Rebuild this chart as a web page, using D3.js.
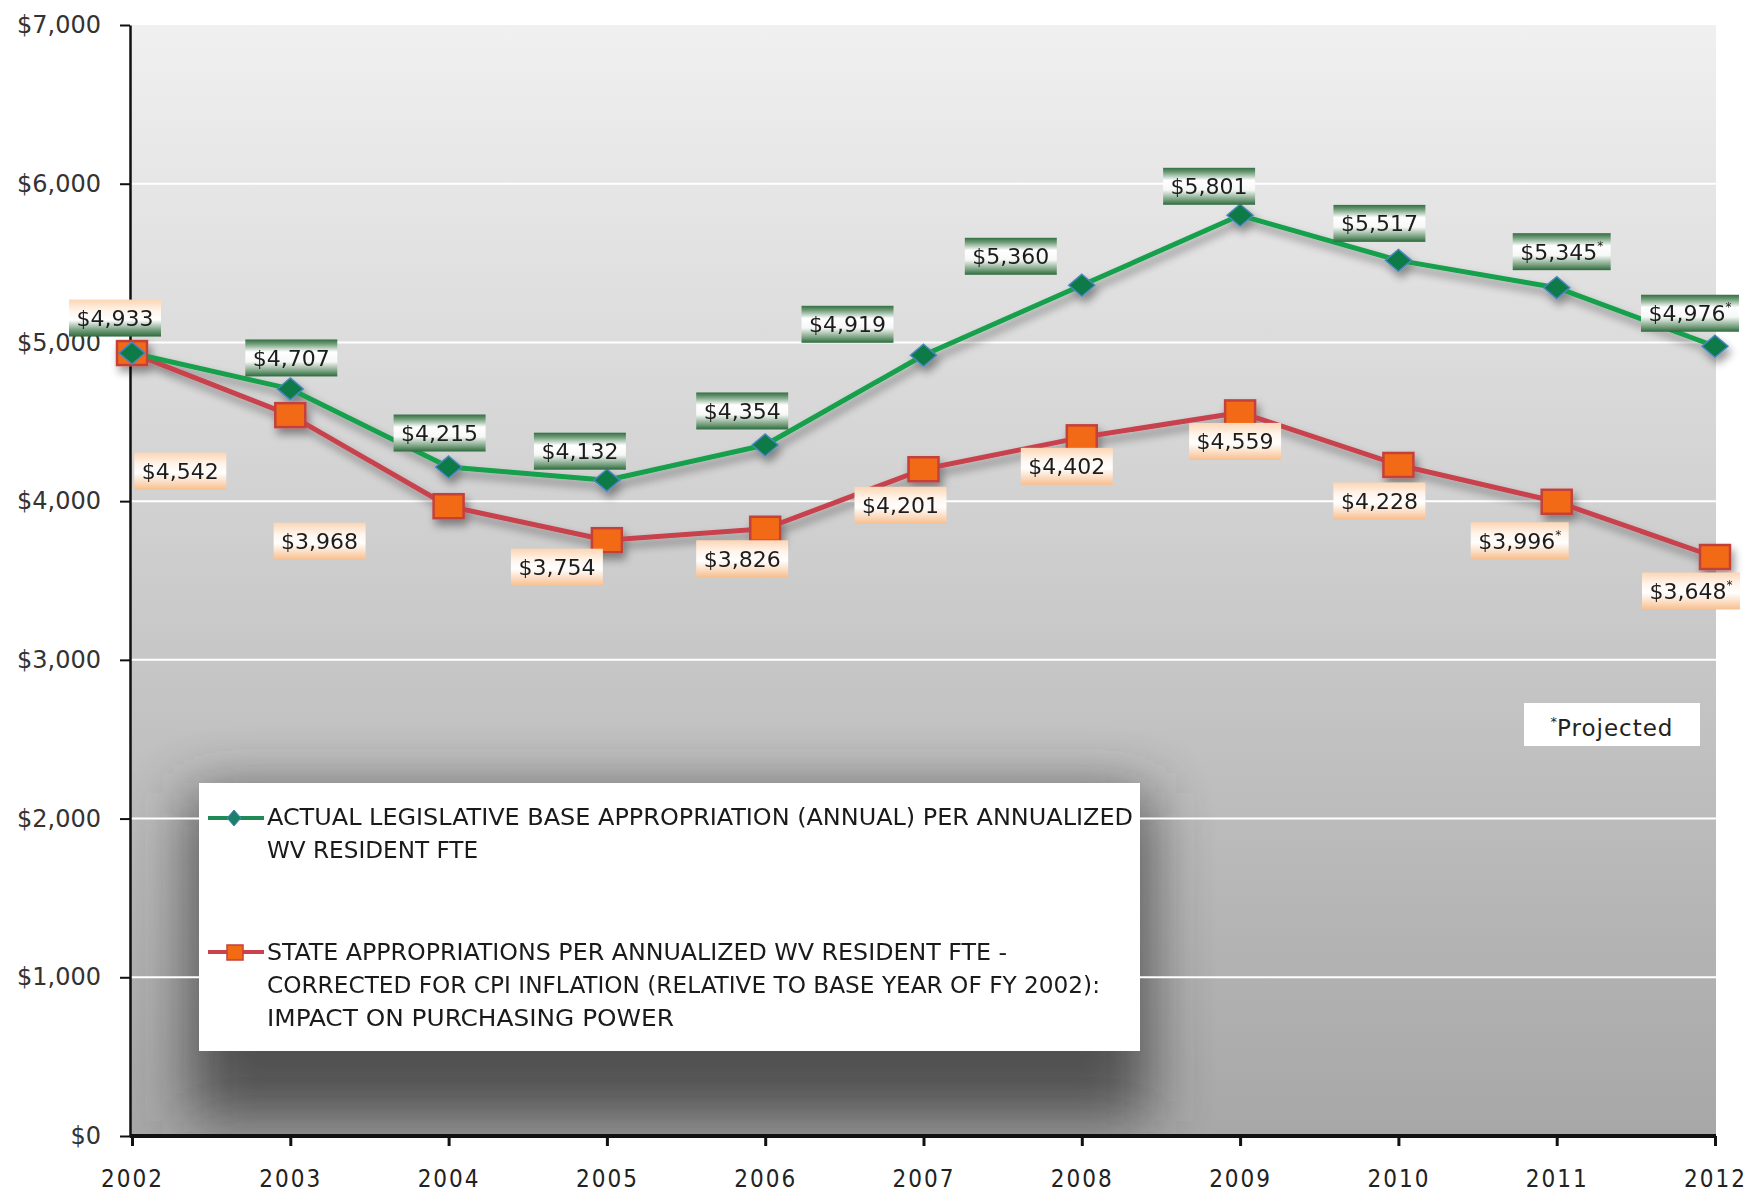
<!DOCTYPE html>
<html>
<head>
<meta charset="utf-8">
<script src="https://cdn.jsdelivr.net/npm/d3@7"></script>
<style>
body { margin: 0; background: #fff; }
svg { display: block; }
</style>
</head>
<body>
<svg width="1760" height="1193"></svg>
<script>
// === Données ===
var years = [2002, 2003, 2004, 2005, 2006, 2007, 2008, 2009, 2010, 2011, 2012];
var actual = [4933, 4707, 4215, 4132, 4354, 4919, 5360, 5801, 5517, 5345, 4976];
var adjusted = [4933, 4542, 3968, 3754, 3826, 4201, 4402, 4559, 4228, 3996, 3648];
var projected = [false, false, false, false, false, false, false, false, false, true, true];
var yTicks = [0, 1000, 2000, 3000, 4000, 5000, 6000, 7000];
var legendActual = ["ACTUAL LEGISLATIVE BASE APPROPRIATION (ANNUAL) PER ANNUALIZED", "WV RESIDENT FTE"];
var legendAdjusted = ["STATE APPROPRIATIONS PER ANNUALIZED WV RESIDENT FTE -",
  "CORRECTED FOR CPI INFLATION (RELATIVE TO BASE YEAR OF FY 2002):",
  "IMPACT ON PURCHASING POWER"];
var noteText = "Projected";

// décalage des étiquettes (px) par rapport au point
var actualDx = [-17, 1, -9, -27, -23, -76, -71, -31, -19, 5, -25];
var actualDy = [-35, -31, -34, -29, -34, -31, -29, -29, -37, -36, -33];
var adjustedDx = [null, -110, -129, -50, -23, -23, -15, -5, -19, -37, -24];
var adjustedDy = [null, 56, 35, 27, 30, 36, 29, 29, 36, 39, 34];

var svg = d3.select("svg");
var pLeft = 130, pRight = 1716, pTop = 25, pBottom = 1136;

var x = d3.scaleLinear().domain([2002, 2012]).range([132, 1715]);
var y = d3.scaleLinear().domain([0, 7000]).range([pBottom, pTop]);
var fmt = function(v) { return "$" + d3.format(",")(v); };

var defs = svg.append("defs");

function gradient(id, stops) {
  var g = defs.append("linearGradient").attr("id", id)
    .attr("x1", 0).attr("y1", 0).attr("x2", 0).attr("y2", 1);
  stops.forEach(function(s) {
    g.append("stop").attr("offset", s[0]).attr("stop-color", s[1]);
  });
}
gradient("bg", [[0, "#f0f0f0"], [0.3, "#dbdbdb"], [0.55, "#c8c8c8"], [0.8, "#b5b5b5"], [1, "#a7a7a7"]]);
gradient("greenLab", [[0, "#336f42"], [0.12, "#6f9c78"], [0.34, "#ffffff"], [0.6, "#f6f8f6"], [0.86, "#77a07f"], [1, "#2d6a3c"]]);
gradient("orangeLab", [[0, "#fcd5b4"], [0.3, "#fff4ea"], [0.55, "#ffffff"], [1, "#f8bf8e"]]);
gradient("mixedLab", [[0, "#fcd5b4"], [0.3, "#fff4ea"], [0.55, "#ffffff"], [0.82, "#77a07f"], [1, "#2d6a3c"]]);

defs.append("clipPath").attr("id", "plotClip")
  .append("rect").attr("x", pLeft).attr("y", pTop).attr("width", pRight - pLeft).attr("height", pBottom - pTop);

var big = defs.append("filter").attr("id", "bigShadow").attr("filterUnits", "userSpaceOnUse")
  .attr("x", 0).attr("y", 0).attr("width", 1760).attr("height", 1193);
big.append("feGaussianBlur").attr("stdDeviation", 30);

var ds = defs.append("filter").attr("id", "ds").attr("filterUnits", "userSpaceOnUse")
  .attr("x", 0).attr("y", 0).attr("width", 1760).attr("height", 1193);
ds.append("feGaussianBlur").attr("in", "SourceAlpha").attr("stdDeviation", 4).attr("result", "b");
ds.append("feOffset").attr("in", "b").attr("dx", 3).attr("dy", 6).attr("result", "o");
ds.append("feComponentTransfer").attr("in", "o").attr("result", "o2")
  .append("feFuncA").attr("type", "linear").attr("slope", 0.4);
var mg = ds.append("feMerge");
mg.append("feMergeNode").attr("in", "o2");
mg.append("feMergeNode").attr("in", "SourceGraphic");

// fond
svg.append("rect").attr("x", pLeft).attr("y", pTop).attr("width", pRight - pLeft).attr("height", pBottom - pTop)
  .attr("fill", "url(#bg)");

// ombre de la légende
var legX = 199, legY = 783, legW = 941, legH = 268;
svg.append("g").attr("clip-path", "url(#plotClip)")
  .append("rect").attr("x", legX - 10).attr("y", legY + 10).attr("width", legW + 20).attr("height", legH + 60)
  .attr("fill", "#303030").attr("opacity", 0.75).attr("filter", "url(#bigShadow)");

// grille
svg.append("g").selectAll("line").data(yTicks.filter(function(d) { return d > 0 && d < 7000; }))
  .enter().append("line")
  .attr("x1", pLeft).attr("x2", pRight)
  .attr("y1", function(d) { return y(d); }).attr("y2", function(d) { return y(d); })
  .attr("stroke", "#ffffff").attr("stroke-width", 2);

// axes
var yAxis = svg.append("g").attr("transform", "translate(" + pLeft + ",0)")
  .call(d3.axisLeft(y).tickValues(yTicks).tickFormat(fmt).tickSize(10).tickSizeOuter(0).tickPadding(19));
yAxis.select(".domain").attr("stroke", "#111").attr("stroke-width", 2.5);
yAxis.selectAll(".tick line").attr("stroke", "#111").attr("stroke-width", 2);
yAxis.selectAll("text").attr("font-family", "DejaVu Sans").attr("font-size", 24).attr("fill", "#333");

var xAxis = svg.append("g").attr("transform", "translate(0," + pBottom + ")")
  .call(d3.axisBottom(x).tickValues(years).tickFormat(d3.format("d")).tickSize(10).tickSizeOuter(0).tickPadding(24));
xAxis.select(".domain").attr("stroke", "#111").attr("stroke-width", 4).attr("d", "M" + pLeft + ",0H" + pRight);
xAxis.selectAll(".tick line").attr("stroke", "#111").attr("stroke-width", 3);
xAxis.selectAll("text").attr("font-family", "DejaVu Sans Condensed").attr("font-size", 24)
  .attr("letter-spacing", 2).attr("fill", "#222");

// courbes
var lineGen = function(vals) {
  return d3.line().x(function(d, i) { return x(years[i]); }).y(function(d) { return y(d); })(vals);
};
var series = svg.append("g").attr("filter", "url(#ds)");
series.append("path").attr("d", lineGen(adjusted)).attr("fill", "none")
  .attr("stroke", "#c8434d").attr("stroke-width", 5).attr("stroke-linejoin", "round");
series.append("path").attr("d", lineGen(actual)).attr("fill", "none")
  .attr("stroke", "#16a04c").attr("stroke-width", 5).attr("stroke-linejoin", "round");

series.selectAll(".sq").data(adjusted).enter().append("rect").attr("class", "sq")
  .attr("x", function(d, i) { return x(years[i]) - 15; })
  .attr("y", function(d) { return y(d) - 12; })
  .attr("width", 30).attr("height", 24)
  .attr("fill", "#f26b12").attr("stroke", "#c4403a").attr("stroke-width", 2.5);

series.selectAll(".dm").data(actual).enter().append("path").attr("class", "dm")
  .attr("transform", function(d, i) { return "translate(" + x(years[i]) + "," + y(d) + ")"; })
  .attr("d", "M0,-11L13,0L0,11L-13,0Z")
  .attr("fill", "#0b7a46").attr("stroke", "#4a86c0").attr("stroke-width", 1.5);

// étiquettes
function labels(vals, dxs, dys, grad) {
  vals.forEach(function(v, i) {
    if (dxs[i] === null) return;
    var cx = x(years[i]) + dxs[i], cy = y(v) + dys[i];
    var g = svg.append("g");
    var t = g.append("text").attr("x", cx).attr("y", cy + 8).attr("text-anchor", "middle")
      .attr("font-family", "DejaVu Sans").attr("font-size", 22).attr("fill", "#1c1c1c");
    t.append("tspan").text(fmt(v));
    if (projected[i]) t.append("tspan").attr("font-size", 12).attr("dy", -10).text("*");
    var w = t.node().getComputedTextLength() + 15;
    g.insert("rect", "text").attr("x", cx - w / 2).attr("y", cy - 18.5).attr("width", w).attr("height", 37)
      .attr("fill", typeof grad === "function" ? grad(i) : grad);
  });
}
labels(adjusted, adjustedDx, adjustedDy, "url(#orangeLab)");
labels(actual, actualDx, actualDy, function(i) { return adjusted[i] === actual[i] ? "url(#mixedLab)" : "url(#greenLab)"; });

// légende
var leg = svg.append("g");
leg.append("rect").attr("x", legX).attr("y", legY).attr("width", legW).attr("height", legH).attr("fill", "#fff");
var legEnds = [[1133, 478], [1007, 1100, 674]];
var legBase = [[825, 858], [960, 993, 1026]];
[legendActual, legendAdjusted].forEach(function(lines, k) {
  lines.forEach(function(s, j) {
    leg.append("text").attr("x", 267).attr("y", legBase[k][j])
      .attr("font-family", "DejaVu Sans Condensed").attr("font-size", 23).attr("fill", "#1a1a1a")
      .attr("textLength", legEnds[k][j] - 267).attr("lengthAdjust", "spacingAndGlyphs")
      .text(s);
  });
});
leg.append("line").attr("x1", 208).attr("x2", 264).attr("y1", 818).attr("y2", 818)
  .attr("stroke", "#1f8a55").attr("stroke-width", 4);
leg.append("path").attr("transform", "translate(234,818)").attr("d", "M0,-8L7,0L0,8L-7,0Z")
  .attr("fill", "#1c7f6a").attr("stroke", "#4a86c0").attr("stroke-width", 1);
leg.append("line").attr("x1", 208).attr("x2", 264).attr("y1", 952).attr("y2", 952)
  .attr("stroke", "#c8434d").attr("stroke-width", 4);
leg.append("rect").attr("x", 227).attr("y", 945).attr("width", 16).attr("height", 15)
  .attr("fill", "#f26b12").attr("stroke", "#c4403a").attr("stroke-width", 1.5);

// note "Projected"
var note = svg.append("g");
note.append("rect").attr("x", 1524).attr("y", 703).attr("width", 176).attr("height", 43).attr("fill", "#fff");
var nt = note.append("text").attr("x", 1612).attr("y", 736).attr("text-anchor", "middle")
  .attr("font-family", "DejaVu Sans").attr("font-size", 23).attr("fill", "#222");
nt.append("tspan").attr("font-size", 13).attr("dy", -10).text("*");
nt.append("tspan").attr("dy", 10).attr("letter-spacing", 1).text(noteText);
</script>
</body>
</html>
